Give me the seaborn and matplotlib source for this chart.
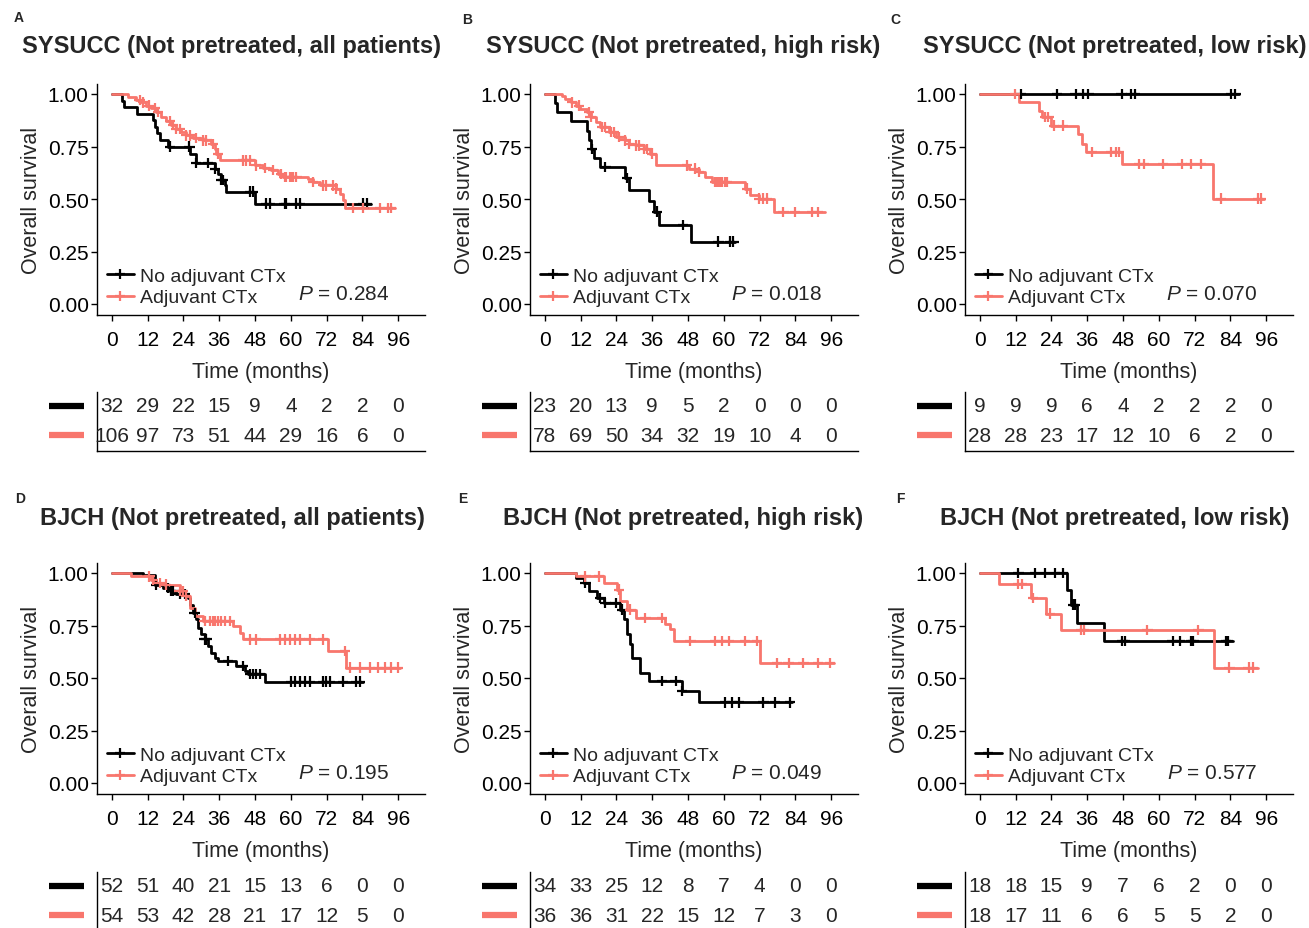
import numpy as np
import pandas as pd
import matplotlib.pyplot as plt
import matplotlib.transforms as mtransforms
from matplotlib.lines import Line2D
import seaborn as sns

# ---- panel text ----
titles = ["SYSUCC (Not pretreated, all patients)", "SYSUCC (Not pretreated, high risk)",
          "SYSUCC (Not pretreated, low risk)", "BJCH (Not pretreated, all patients)",
          "BJCH (Not pretreated, high risk)", "BJCH (Not pretreated, low risk)"]
letters = ["A", "B", "C", "D", "E", "F"]
p_values = ["0.284", "0.018", "0.070", "0.195", "0.049", "0.577"]
groups = ["No adjuvant CTx", "Adjuvant CTx"]
colors = ["#000000", "#F8766D"]
time_ticks = [0, 12, 24, 36, 48, 60, 72, 84, 96]

# ---- numbers at risk ----
risk_no = [[32, 29, 22, 15, 9, 4, 2, 2, 0], [23, 20, 13, 9, 5, 2, 0, 0, 0], [9, 9, 9, 6, 4, 2, 2, 2, 0],
           [52, 51, 40, 21, 15, 13, 6, 0, 0], [34, 33, 25, 12, 8, 7, 4, 0, 0], [18, 18, 15, 9, 7, 6, 2, 0, 0]]
risk_adj = [[106, 97, 73, 51, 44, 29, 16, 6, 0], [78, 69, 50, 34, 32, 19, 10, 4, 0], [28, 28, 23, 17, 12, 10, 6, 2, 0],
            [54, 53, 42, 28, 21, 17, 12, 5, 0], [36, 36, 31, 22, 15, 12, 7, 3, 0], [18, 17, 11, 6, 6, 5, 5, 2, 0]]

# ---- KM curves: event times, survival after event, censor times, last follow-up ----
# A: SYSUCC all
a_no_t = [0, 3.4, 4.0, 8.5, 13.8, 14.5, 15.2, 16.0, 18.8, 26.1, 28.1, 34.5, 35.5, 36.5, 37.8, 38.4, 48.1]
a_no_s = [1, 0.969, 0.938, 0.906, 0.875, 0.844, 0.812, 0.781, 0.75, 0.716, 0.672, 0.645, 0.62, 0.59, 0.565, 0.535, 0.478]
a_no_c = [19.4, 26.0, 28.1, 32.2, 34.5, 36.7, 37.2, 46.2, 47.3, 51.8, 52.9, 57.9, 58.5, 61.9, 63.0, 84.2, 85.6]
a_no_end = 87
a_adj_t = [0, 5.4, 8.2, 9.8, 11.5, 13.2, 14.9, 16.6, 18.2, 19.9, 21.6, 23.3, 24.9, 27.2, 30.5, 33.3, 34.5, 35.0,
           36.1, 47.9, 50.7, 53.5, 55.7, 57.4, 65.8, 67.4, 69.7, 75.3, 76.4, 77.5, 78.1]
a_adj_s = [1, 0.984, 0.973, 0.96, 0.945, 0.932, 0.913, 0.89, 0.87, 0.853, 0.834, 0.818, 0.803, 0.79, 0.779, 0.763,
           0.739, 0.716, 0.684, 0.66, 0.648, 0.637, 0.62, 0.605, 0.597, 0.581, 0.565, 0.55, 0.526, 0.494, 0.457]
a_adj_c = [9.3, 10.4, 12.6, 14.3, 15.4, 19.4, 20.5, 21.6, 22.7, 24.9, 26.1, 28.3, 30.5, 31.7, 33.9, 35.6, 44.0, 45.1,
           46.2, 48.4, 51.2, 54.0, 56.8, 57.9, 58.5, 59.6, 60.2, 60.7, 61.9, 67.4, 70.8, 71.9, 74.2, 75.3, 80.9,
           84.2, 89.8, 92.6, 93.7]
a_adj_end = 94.9

# B: SYSUCC high risk
b_no_t = [0, 3.3, 4.1, 8.6, 14.2, 14.7, 15.3, 16.4, 18.6, 27.0, 28.1, 35.0, 36.5, 38.4, 49.0]
b_no_s = [1, 0.957, 0.913, 0.870, 0.826, 0.783, 0.739, 0.696, 0.652, 0.60, 0.543, 0.49, 0.44, 0.376, 0.297]
b_no_c = [15.8, 20.3, 27.5, 37.6, 46.2, 58.2, 62.0, 63.2]
b_no_end = 63.8
b_adj_t = [0, 5.8, 6.9, 8.6, 10.3, 11.9, 14.2, 15.3, 17.0, 18.6, 21.4, 23.7, 27.0, 28.1, 30.4, 33.1, 35.4, 37.1,
           48.2, 51.6, 53.8, 56.0, 67.2, 68.9, 71.7, 76.7]
b_adj_s = [1, 0.992, 0.976, 0.96, 0.945, 0.929, 0.913, 0.889, 0.866, 0.842, 0.818, 0.795, 0.779, 0.763, 0.755,
           0.739, 0.716, 0.66, 0.645, 0.629, 0.605, 0.581, 0.55, 0.518, 0.502, 0.439]
b_adj_c = [9.2, 11.4, 14.7, 15.3, 19.2, 20.3, 22.0, 23.1, 24.8, 27.0, 28.1, 30.4, 31.5, 33.1, 34.3, 35.9, 47.7,
           50.4, 51.6, 57.1, 57.7, 58.3, 58.8, 59.4, 60.5, 61.0, 67.7, 71.7, 73.3, 74.4, 80.0, 83.9, 89.5, 91.7]
b_adj_end = 94

# C: SYSUCC low risk
c_no_t = [0]
c_no_s = [1]
c_no_c = [13.7, 25.8, 32.1, 34.6, 36.4, 47.5, 50.8, 52.0, 84.2, 85.7]
c_no_end = 87
c_adj_t = [0, 13.1, 19.8, 20.9, 23.7, 33.0, 34.2, 35.5, 47.6, 78.3]
c_adj_s = [1, 0.961, 0.921, 0.889, 0.85, 0.81, 0.763, 0.724, 0.668, 0.502]
c_adj_c = [11.8, 21.8, 23.0, 24.9, 27.9, 37.5, 43.9, 45.6, 46.5, 53.4, 55.1, 61.5, 67.7, 70.8, 74.1, 80.9, 93.2, 94.3]
c_adj_end = 95.4

# D: BJCH all
d_no_t = [0, 10.4, 14.3, 17.1, 19.4, 21.6, 25.5, 26.1, 27.2, 28.3, 28.9, 30.0, 31.1, 32.2, 33.3, 34.5, 35.6,
          41.7, 44.5, 45.6, 51.5]
d_no_s = [1, 0.992, 0.945, 0.929, 0.913, 0.9, 0.882, 0.85, 0.81, 0.779, 0.739, 0.708, 0.684, 0.652, 0.621,
          0.597, 0.581, 0.558, 0.534, 0.518, 0.483]
d_no_c = [14.9, 18.8, 19.9, 20.5, 22.7, 24.4, 27.7, 31.1, 31.7, 38.9, 44.0, 46.2, 47.3, 48.4, 49.6, 60.2, 61.3,
          63.0, 64.7, 66.3, 70.8, 71.9, 73.0, 77.5, 82.0, 83.1]
d_no_end = 84.2
d_adj_t = [0, 6.5, 13.2, 14.9, 17.7, 22.7, 24.4, 26.1, 27.7, 30.5, 40.6, 42.8, 44.0, 72.5, 78.6]
d_adj_s = [1, 0.984, 0.968, 0.953, 0.945, 0.913, 0.889, 0.834, 0.795, 0.771, 0.747, 0.716, 0.684, 0.629, 0.55]
d_adj_c = [12.6, 13.8, 16.0, 18.2, 22.7, 23.8, 24.9, 31.1, 32.8, 33.9, 34.5, 35.6, 36.7, 37.8, 39.5, 46.2, 48.4,
           56.3, 57.9, 59.6, 61.3, 63.0, 66.3, 70.8, 78.1, 79.8, 83.1, 86.5, 89.3, 91.5, 93.7, 96.0]
d_adj_end = 96.5

# E: BJCH high risk
e_no_t = [0, 10.3, 13.1, 14.7, 17.5, 19.8, 25.3, 26.5, 27.6, 28.7, 29.2, 32.0, 34.8, 46.0, 51.8]
e_no_s = [1, 0.976, 0.953, 0.913, 0.882, 0.858, 0.826, 0.779, 0.708, 0.66, 0.597, 0.526, 0.487, 0.439, 0.384]
e_no_c = [13.6, 18.6, 20.3, 23.7, 25.9, 39.3, 43.8, 46.0, 60.5, 62.7, 65.0, 73.3, 77.2, 82.3]
e_no_end = 82.8
e_adj_t = [0, 10.3, 19.8, 24.2, 25.3, 27.6, 30.4, 40.4, 42.1, 43.2, 72.2]
e_adj_s = [1, 0.984, 0.953, 0.921, 0.866, 0.826, 0.787, 0.755, 0.731, 0.676, 0.573]
e_adj_c = [13.6, 18.1, 24.8, 28.7, 33.7, 39.3, 48.8, 57.1, 59.4, 61.6, 67.2, 71.1, 77.8, 81.7, 86.7, 91.7, 95.6]
e_adj_end = 96.8

# F: BJCH low risk
f_no_t = [0, 29.3, 30.4, 32.7, 41.7]
f_no_s = [1, 0.921, 0.85, 0.763, 0.676]
f_no_c = [12.9, 18.5, 21.8, 25.2, 27.7, 31.2, 31.9, 47.8, 48.6, 64.6, 67.1, 70.8, 71.6, 82.5, 83.3]
f_no_end = 84.8
f_adj_t = [0, 6.4, 17.0, 22.1, 27.1, 78.6]
f_adj_s = [1, 0.948, 0.882, 0.807, 0.727, 0.55]
f_adj_c = [12.9, 14.0, 17.8, 23.4, 33.8, 34.9, 56.2, 73.3, 83.7, 90.1, 91.5]
f_adj_end = 93.2

panels = [
    ((a_no_t, a_no_s, a_no_c, a_no_end), (a_adj_t, a_adj_s, a_adj_c, a_adj_end)),
    ((b_no_t, b_no_s, b_no_c, b_no_end), (b_adj_t, b_adj_s, b_adj_c, b_adj_end)),
    ((c_no_t, c_no_s, c_no_c, c_no_end), (c_adj_t, c_adj_s, c_adj_c, c_adj_end)),
    ((d_no_t, d_no_s, d_no_c, d_no_end), (d_adj_t, d_adj_s, d_adj_c, d_adj_end)),
    ((e_no_t, e_no_s, e_no_c, e_no_end), (e_adj_t, e_adj_s, e_adj_c, e_adj_end)),
    ((f_no_t, f_no_s, f_no_c, f_no_end), (f_adj_t, f_adj_s, f_adj_c, f_adj_end)),
]

sns.set_style("ticks")
plt.rcParams["font.family"] = ["Liberation Sans", "DejaVu Sans"]
plt.rcParams["mathtext.fontset"] = "custom"
plt.rcParams["mathtext.it"] = "Liberation Sans:italic"
plt.rcParams["mathtext.rm"] = "Liberation Sans"

W, H = 1309, 929
fig = plt.figure(figsize=(W / 100, H / 100), dpi=100)


def rect(x0, y0, x1, y1):
    # pixel box -> figure fraction
    return [x0 / W, 1 - y1 / H, (x1 - x0) / W, (y1 - y0) / H]


col_left = [97, 530, 965]
row_top = [84.5, 563.5]
table_top = [393, 873]
title_x = [232, 683, 1115]
title_y = [46, 519]
letter_pos = [(19, 18), (467, 20), (895, 20), (20, 499), (463, 499), (900, 499)]
pal = dict(zip(groups, colors))

for i, (curves, title) in enumerate(zip(panels, titles)):
    r, c = divmod(i, 3)
    x0 = col_left[c]
    ax = fig.add_axes(rect(x0, row_top[r], x0 + 328, row_top[r] + 231))

    lines, cens = [], []
    for g, (t, s, ct, end) in zip(groups, curves):
        tt = list(t) + [end]
        ss = list(s) + [s[-1]]
        lines.append(pd.DataFrame({"time": tt, "surv": ss, "group": g}))
        idx = np.searchsorted(t, ct, side="right") - 1
        cens.append(pd.DataFrame({"time": ct, "surv": np.array(s)[idx], "group": g}))
    lines = pd.concat(lines)
    cens = pd.concat(cens)

    sns.lineplot(data=lines, x="time", y="surv", hue="group", hue_order=groups, palette=pal,
                 drawstyle="steps-post", estimator=None, linewidth=2, legend=False, ax=ax)
    sns.scatterplot(data=cens, x="time", y="surv", hue="group", hue_order=groups, palette=pal,
                    marker="+", s=55, linewidth=1.6, legend=False, ax=ax, zorder=3)

    ax.set_xlim(-5, 105)
    ax.set_ylim(-0.05, 1.05)
    ax.set_xticks(time_ticks)
    ax.set_yticks([0, 0.25, 0.5, 0.75, 1.0])
    ax.set_yticklabels(["0.00", "0.25", "0.50", "0.75", "1.00"])
    ax.tick_params(labelsize=15, length=4, width=1, colors="black")
    ax.tick_params(axis="x", pad=7)
    ax.tick_params(axis="y", pad=2)
    for sp in ["top", "right"]:
        ax.spines[sp].set_visible(False)
    for sp in ["left", "bottom"]:
        ax.spines[sp].set_linewidth(1)
        ax.spines[sp].set_color("black")
    ax.set_xlabel("Time (months)", fontsize=15.5, labelpad=9)
    ax.set_ylabel("Overall survival", fontsize=15.5, labelpad=4)

    handles = [Line2D([], [], color=col, lw=2, marker="+", markersize=7, mew=1.6) for col in colors]
    ax.legend(handles, groups, loc="lower left", bbox_to_anchor=(0.03, 0.035), frameon=False,
              fontsize=14, handlelength=1.4, handletextpad=0.3, labelspacing=0.2,
              borderaxespad=0, borderpad=0)
    ax.text(93, 0.05, r"$P$ = " + p_values[i], ha="right", va="center", fontsize=15)

    # risk table
    tb = fig.add_axes(rect(x0, table_top[r], x0 + 328, table_top[r] + 59))
    tb.set_xlim(-5, 105)
    tb.set_ylim(-0.55, 1.48)
    tb.set_xticks([])
    tb.set_yticks([])
    tb.set_facecolor("none")
    for sp in ["top", "right"]:
        tb.spines[sp].set_visible(False)
    for sp in ["left", "bottom"]:
        tb.spines[sp].set_linewidth(1)
        tb.spines[sp].set_color("black")
    for row, vals in zip([1, 0], [risk_no[i], risk_adj[i]]):
        for tm, v in zip(time_ticks, vals):
            tb.text(tm, row, str(v), ha="center", va="center", fontsize=15)
    trans = mtransforms.blended_transform_factory(tb.transAxes, tb.transData)
    for row, col in zip([1, 0], colors):
        tb.plot([-0.145, -0.04], [row, row], color=col, lw=4.5, solid_capstyle="butt",
                transform=trans, clip_on=False)

    fig.text(title_x[c] / W, 1 - title_y[r] / H, title, ha="center", va="center",
             fontsize=17, fontweight="bold")
    lx, ly = letter_pos[i]
    fig.text(lx / W, 1 - ly / H, letters[i], ha="center", va="center", fontsize=10, fontweight="bold")

fig.savefig("out.png", dpi=100)
